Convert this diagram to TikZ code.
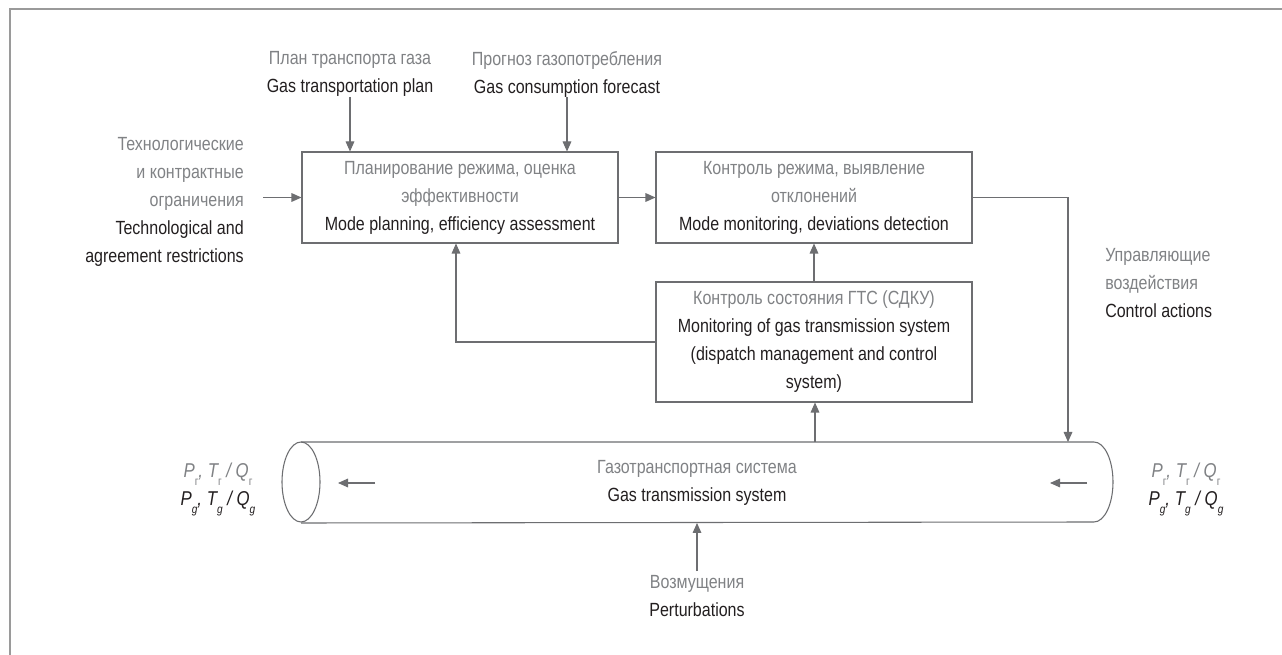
\documentclass[tikz,border=0pt]{standalone}
\usepackage{fontspec}
\setmainfont{Liberation Sans}[FakeStretch=0.84]
\usetikzlibrary{arrows.meta}
\definecolor{tgray}{HTML}{808285}
\definecolor{tblack}{HTML}{231F20}
\definecolor{lgray}{HTML}{6D6E71}
\definecolor{fgray}{HTML}{9A9A9A}
\newcommand\sbs[1]{\smash{\raisebox{-0.75ex}{\fontsize{9}{9}\selectfont #1}}}
\newcommand\sbr{\smash{\raisebox{-0.75ex}{\fontsize{9}{9}\selectfont\upshape г}}}
\tikzset{
  txt/.style={font=\fontsize{14.3}{21}\selectfont, align=center, inner sep=0pt, text=tblack},
  blk/.style={draw=lgray, line width=0.8pt, fill=white, minimum width=237pt, inner sep=0pt, txt},
  arr/.style={draw=lgray, line width=0.8pt, -{Triangle[length=7.5pt,width=6.5pt]}},
  ln/.style={draw=lgray, line width=0.8pt},
  pq/.style={txt, font=\fontsize{15}{21}\selectfont\itshape},
}
\begin{document}
\begin{tikzpicture}[x=0.75pt,y=-0.75pt]
\useasboundingbox (0,0) rectangle (1282,655);
\fill[white] (0,0) rectangle (1282,655);
% frame
\draw[fgray, line width=1.6pt] (1282,9) -- (10,9) -- (10,655);

% boxes
\node[blk, minimum height=68.25pt] (plan) at (460,197.5) {{\color{tgray}Планирование режима, оценка}\\{\color{tgray}эффективности}\\Mode planning, efficiency assessment};
\node[blk, minimum height=68.25pt] (ctrl) at (814,197.5) {{\color{tgray}Контроль режима, выявление}\\{\color{tgray}отклонений}\\Mode monitoring, deviations detection};
\node[blk, minimum height=90pt] (mon) at (814,342) {{\color{tgray}Контроль состояния ГТС (СДКУ)}\\Monitoring of gas transmission system\\(dispatch management and control\\system)};

% top inputs
\node[txt] (tp) at (350,74) {{\color{tgray}План транспорта газа}\\Gas transportation plan};
\node[txt] (fc) at (567,74) {{\color{tgray}Прогноз газопотребления}\\Gas consumption forecast};
\node[txt, align=right, anchor=east] (lim) at (244,202) {{\color{tgray}Технологические}\\{\color{tgray}и контрактные}\\{\color{tgray}ограничения}\\Technological and\\agreement restrictions};
\node[txt, align=left, anchor=west] (ca) at (1105,283) {{\color{tgray}Управляющие}\\{\color{tgray}воздействия}\\Control actions};

% cylinder
\coordinate (cl) at (301,482);
\coordinate (cr) at (1094,482);
\draw[ln] (301,442) -- (1094,442) arc[start angle=-90, end angle=90, x radius=19, y radius=40] -- (301,523);
\draw[ln] (cl) ellipse[x radius=19, y radius=40];
\node[txt] (gts) at (697,483) {{\color{tgray}Газотранспортная система}\\Gas transmission system};
\node[txt] (pert) at (697,596) {{\color{tgray}Возмущения}\\Perturbations};
\node[pq] (pl) at (218,486) {{\color{tgray}P\sbr, T\sbr{} / Q\sbr}\\P\sbs{g}, T\sbs{g} / Q\sbs{g}};
\node[pq] (pr) at (1186,486) {{\color{tgray}P\sbr, T\sbr{} / Q\sbr}\\P\sbs{g}, T\sbs{g} / Q\sbs{g}};

\coordinate (ctop) at (815,442);
\coordinate (cbot) at (697,523);
\coordinate (rtop) at (1068,442);
\coordinate (la1) at (375,483);
\coordinate (la2) at (338,483);
\coordinate (ra1) at (1087,483);
\coordinate (ra2) at (1050,483);

% connectors
\draw[arr] (tp.south -| 350,113) -- (plan.north -| 350,0);
\draw[arr] (fc.south -| 567,113) -- (plan.north -| 567,0);
\draw[arr] (263,197.5) -- (plan.west);
\draw[arr] (plan.east) -- (ctrl.west);
\draw[arr] (mon.north) -- (ctrl.south);
\draw[arr] (mon.west) -| (plan.south -| 456,0);
\draw[arr] (ctrl.east) -| (rtop);
\draw[arr] (ctop) -- (mon.south -| ctop);
\draw[arr] (pert.north) ++(0,-4) -- (cbot);
\draw[arr] (la1) -- (la2);
\draw[arr] (ra1) -- (ra2);
\end{tikzpicture}
\end{document}
